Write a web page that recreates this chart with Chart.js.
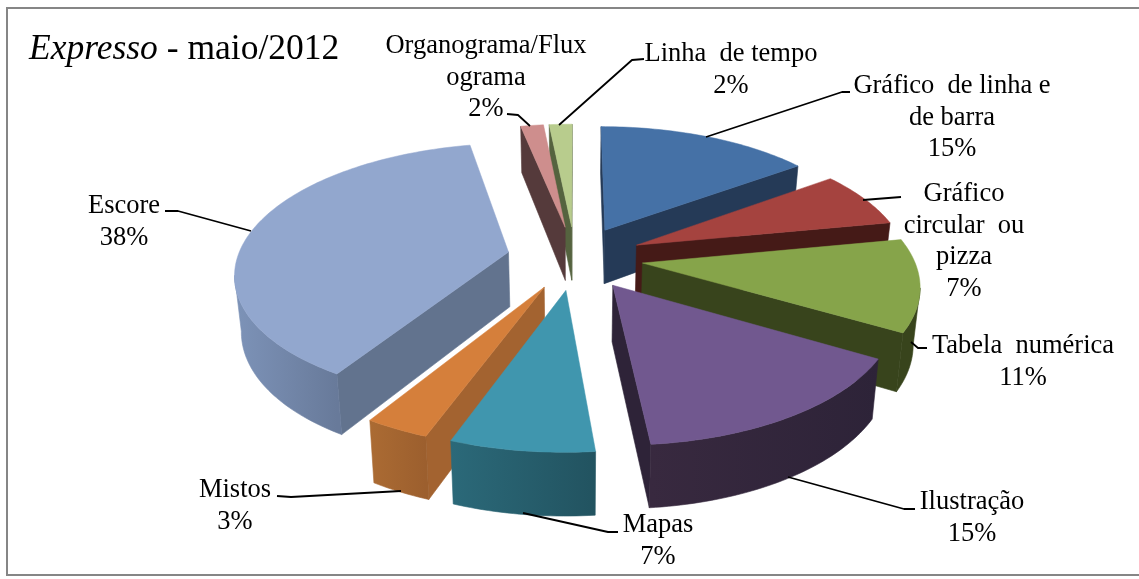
<!DOCTYPE html>
<html>
<head>
<meta charset="utf-8">
<script src="https://cdn.jsdelivr.net/npm/chart.js@4"></script>
<style>html,body{margin:0;padding:0;background:#fff;overflow:hidden}canvas{display:block}</style>
</head>
<body>
<canvas id="c" width="1139" height="579"></canvas>
<script>
// ---- data ----
const categories = ["Gráfico de linha e de barra","Gráfico circular ou pizza","Tabela numérica","Ilustração","Mapas","Mistos","Escore","Organograma/Fluxograma","Linha de tempo"];
const values = [15.0,7.0,11.4,15.1,7.1,3.2,38.0,1.6,1.6];
const titleItalic = "Expresso";
const titleRest = " - maio/2012";

// ---- colours ----
const faceColors = ["#4571A6","#A5433F","#86A44A","#71588F","#4096AE","#D57F3B","#92A7CE","#CE8E8D","#B8CC8D"];
const wallColors = ["#253A57","#451A17","#38441C","#2E2338","#225360","#A36330","#62738E","#553A3B","#55633F"];
const rimStart  = ["#253A57","#451A17","#38441C","#2D2338","#225360","#9C5F2E","#687A9A","#553A3B","#55633F"];
const rimEnd    = ["#253A57","#451A17","#38441C","#38293F","#2B6979","#AB6B33","#7D93B8","#553A3B","#55633F"];

// ---- label text layout ----
const labelLines = [["Gráfico  de linha e","de barra"],["Gráfico","circular  ou","pizza"],["Tabela  numérica"],["Ilustração"],["Mapas"],["Mistos"],["Escore"],["Organograma/Flux","ograma"],["Linha  de tempo"]];
const labelCenters = [952,964,1023,972,658,235,124,486,731];
const labelTops = [93,201,353,509,532,497,213,53,61];
const leaderPaths = [
 [[850,92],[842,92],[706,137]],
 [[901,197],[863,200]],
 [[927,348],[918,348],[911,342]],
 [[915,509],[904,509],[788,477]],
 [[618,532],[608,532],[523,513]],
 [[277,496],[291,497],[401,491]],
 [[165,211],[178,211],[251,231]],
 [[507,114],[518,115],[530,126]],
 [[644,59],[632,60],[559,125]]
];

// ---- 3D projection settings ----
const view = {cx:575, cy:257.6, squash:0.4675, persp:0.15, depth:55, depthSlope:7, shrink:0.02};

function project(el, angle, r){
  const R = el.outerRadius, mid = (el.startAngle + el.endAngle) / 2, off = el.options.offset;
  const X = (off*Math.cos(mid) + r*Math.cos(angle)) / R;
  const Y = -(off*Math.sin(mid) + r*Math.sin(angle)) / R;
  const p = 1 / (1 + view.persp*Y);
  const top = {x: view.cx + X*R*p, y: view.cy - Y*R*view.squash*p};
  const dz = view.depth - view.depthSlope*Y;
  top.bx = top.x - (top.x - view.cx)*view.shrink;
  top.by = top.y + dz;
  return top;
}
function wall(ctx,list,fill){
  ctx.beginPath();
  list.forEach((P,j)=>j?ctx.lineTo(P.x,P.y):ctx.moveTo(P.x,P.y));
  for(let j=list.length-1;j>=0;j--)ctx.lineTo(list[j].bx,list[j].by);
  ctx.closePath();
  ctx.fillStyle=fill;ctx.strokeStyle=fill;ctx.lineWidth=0.6;ctx.fill();ctx.stroke();
}
function drawSlice(ctx,el,i){
  const a0=el.startAngle,a1=el.endAngle,R=el.outerRadius;
  const apex=project(el,a0,0), pts=[], n=Math.max(6,Math.ceil((a1-a0)/0.02));
  for(let k=0;k<=n;k++)pts.push(project(el,a0+(a1-a0)*k/n,R));
  // radial walls
  if(pts[0].x<apex.x)wall(ctx,[apex,pts[0]],wallColors[i]);
  if(apex.x<pts[n].x)wall(ctx,[pts[n],apex],wallColors[i]);
  // outer rim wall: the run of points that faces the viewer
  const front=[];
  for(let k=0;k<n;k++)if(pts[k+1].x<pts[k].x){ if(!front.length)front.push(pts[k]); front.push(pts[k+1]); }
  if(front.length){
    const xs=front.map(s=>s.x);
    const g=ctx.createLinearGradient(Math.max(...xs),0,Math.min(...xs),0);
    g.addColorStop(0,rimStart[i]);g.addColorStop(1,rimEnd[i]);
    wall(ctx,front,g);
  }
  // top face
  ctx.beginPath();ctx.moveTo(apex.x,apex.y);pts.forEach(p=>ctx.lineTo(p.x,p.y));ctx.closePath();
  ctx.fillStyle=faceColors[i];ctx.strokeStyle=faceColors[i];ctx.lineWidth=0.5;ctx.fill();ctx.stroke();
}

const pie3d = {
  id:'pie3d',
  beforeDatasetsDraw(chart){
    const ctx=chart.ctx, meta=chart.getDatasetMeta(0);
    ctx.save();
    const order=meta.data.map((el,i)=>({el,i,k:-Math.sin((el.startAngle+el.endAngle)/2)})).sort((a,b)=>b.k-a.k);
    order.forEach(o=>drawSlice(ctx,o.el,o.i));
    ctx.restore();
    return false;
  },
  afterDraw(chart){
    const ctx=chart.ctx;
    ctx.save();
    // frame (its right side falls outside the picture)
    ctx.strokeStyle="#868686";ctx.lineWidth=2;ctx.strokeRect(7,8,1150,567);
    // leaders
    ctx.strokeStyle="#000";ctx.lineWidth=1.8;ctx.lineJoin="round";
    leaderPaths.forEach(path=>{ctx.beginPath();path.forEach((p,j)=>j?ctx.lineTo(p[0],p[1]):ctx.moveTo(p[0],p[1]));ctx.stroke();});
    // labels
    ctx.fillStyle="#000";ctx.textAlign="center";ctx.textBaseline="alphabetic";
    ctx.font='26.5px "Liberation Serif"';
    categories.forEach((c,i)=>{
      const lines=labelLines[i].concat([Math.round(values[i])+"%"]);
      lines.forEach((t,j)=>ctx.fillText(t,labelCenters[i],labelTops[i]+j*31.7));
    });
    // title
    ctx.textAlign="left";
    ctx.font='italic 35.5px "Liberation Serif"';
    ctx.fillText(titleItalic,29,59);
    const w=ctx.measureText(titleItalic).width;
    ctx.font='35.5px "Liberation Serif"';
    ctx.fillText(titleRest,29+w,59);
    ctx.restore();
  }
};

new Chart(document.getElementById('c'),{
  type:'pie',
  data:{labels:categories,datasets:[{data:values,backgroundColor:faceColors,offset:68,borderWidth:0}]},
  options:{responsive:false,animation:false,events:[],radius:271,rotation:0,
    plugins:{legend:{display:false},tooltip:{enabled:false},title:{display:false}}},
  plugins:[pie3d]
});
</script>
</body>
</html>
